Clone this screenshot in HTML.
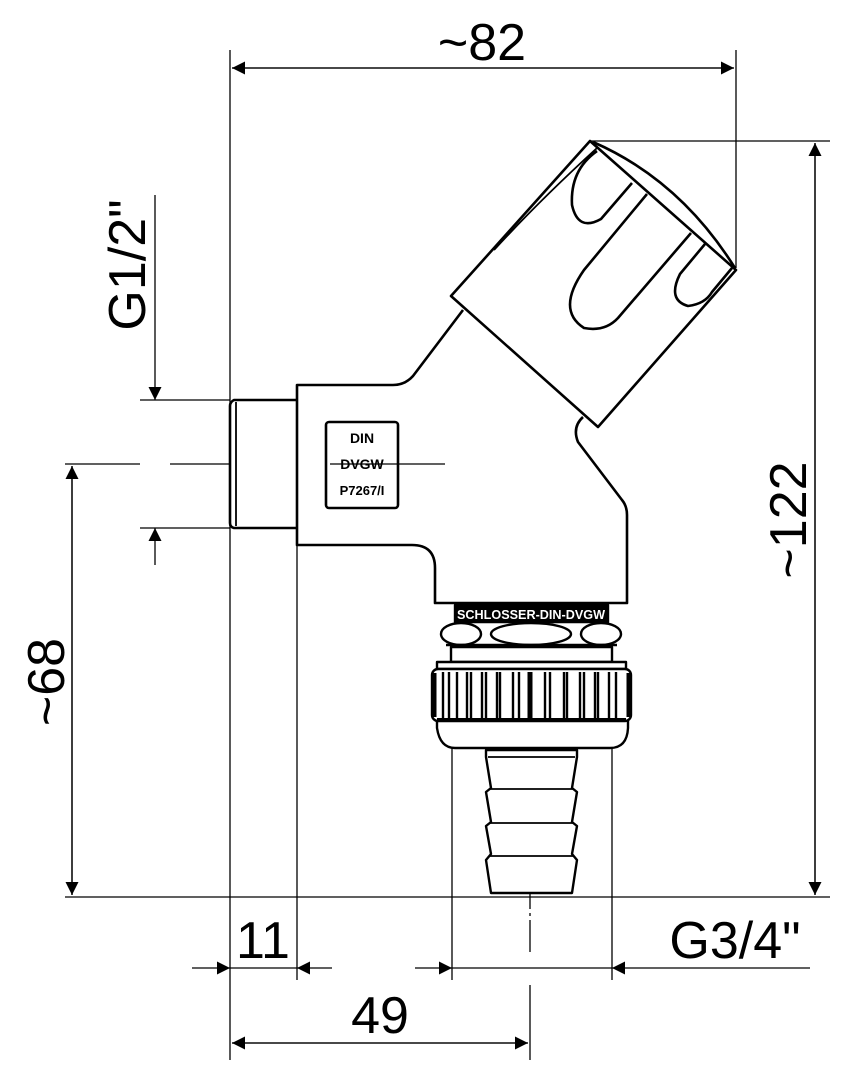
<!DOCTYPE html>
<html><head><style>
html,body{margin:0;padding:0;background:#fff}
svg{display:block}
text{font-family:"Liberation Sans",sans-serif;fill:#000}
</style></head><body>
<svg width="864" height="1080" viewBox="0 0 864 1080" xmlns="http://www.w3.org/2000/svg">
<defs>
<marker id="a" viewBox="0 0 10 10" refX="10" refY="5" markerWidth="22" markerHeight="13" markerUnits="userSpaceOnUse" orient="auto"><path d="M0,0 L10,5 L0,10 z" fill="#000"/></marker>
</defs>
<g stroke="#000" stroke-width="1.3" fill="none">
<line x1="230" y1="50" x2="230" y2="1060"/>
<line x1="297" y1="527" x2="297" y2="980"/>
<line x1="736" y1="50" x2="736" y2="268"/>
<line x1="590" y1="141" x2="830" y2="141"/>
<line x1="65" y1="897" x2="830" y2="897"/>
<line x1="140" y1="400" x2="230" y2="400"/>
<line x1="140" y1="528" x2="230" y2="528"/>
<line x1="452" y1="700" x2="452" y2="980"/>
<line x1="612" y1="700" x2="612" y2="980"/>
<line x1="530" y1="565" x2="530" y2="952" stroke-dasharray="60 4 3 4"/>
<line x1="530" y1="985" x2="530" y2="1060"/>
<line x1="65" y1="464" x2="140" y2="464"/>
<line x1="170" y1="464" x2="445" y2="464" stroke-dasharray="90 4 3 4"/>
<line x1="232" y1="68" x2="734" y2="68" marker-end="url(#a)"/>
<line x1="734" y1="68" x2="232" y2="68" marker-end="url(#a)"/>
<line x1="815" y1="143" x2="815" y2="895" marker-end="url(#a)"/>
<line x1="815" y1="895" x2="815" y2="143" marker-end="url(#a)"/>
<line x1="72" y1="466" x2="72" y2="895" marker-end="url(#a)"/>
<line x1="72" y1="895" x2="72" y2="466" marker-end="url(#a)"/>
<line x1="155" y1="195" x2="155" y2="400" marker-end="url(#a)"/>
<line x1="155" y1="565" x2="155" y2="528" marker-end="url(#a)"/>
<line x1="192" y1="968" x2="230" y2="968" marker-end="url(#a)"/>
<line x1="230" y1="968" x2="297" y2="968"/>
<line x1="332" y1="968" x2="297" y2="968" marker-end="url(#a)"/>
<line x1="415" y1="968" x2="452" y2="968" marker-end="url(#a)"/>
<line x1="452" y1="968" x2="612" y2="968"/>
<line x1="810" y1="968" x2="612" y2="968" marker-end="url(#a)"/>
<line x1="232" y1="1043" x2="528" y2="1043" marker-end="url(#a)"/>
<line x1="528" y1="1043" x2="232" y2="1043" marker-end="url(#a)"/>
</g>
<g stroke="#000" stroke-width="2.6" fill="#fff" stroke-linejoin="round">
<path d="M297,400 L234,400 Q230,402 230,406 L230,523 Q230,527 234,528 L297,528"/>
<line x1="236" y1="402" x2="236" y2="526" stroke-width="1.8"/>
<!-- body fill -->
<path d="M297,385 L393,385 Q405,385 413,376 L463,310 L583,417 Q572,427 578,442 L622,500 Q627,506 627,515 L627,603 L435,603 L435,568 Q435,545 412,545 L297,545 Z" stroke="none"/>
<path d="M463,310 L413,376 Q405,385 393,385 L297,385 L297,545 L412,545 Q435,545 435,568 L435,603 L627,603 L627,515 Q627,506 622,500 L578,442 Q572,427 583,417" fill="none"/>
<!-- handle -->
<path d="M590,141 L736,270 L598,427 L451,296 Z"/>
<path d="M593,142 Q680,180 735,268" fill="none"/>
<path d="M597,148 Q540,200 494,250" fill="none" stroke-width="1.8"/>
<path d="M632,183 L601,219 Q578,232 572,205 Q570,170 597,151" fill="none"/>
<path d="M647,194 L584,270 Q556,310 584,328 Q605,332 618,318 L691,233" fill="none"/>
<path d="M705,244 L680,274 Q667,300 688,306 Q705,304 712,292 L732,268" fill="none"/>
<rect x="326" y="422" width="72" height="86" rx="3"/>
<line x1="330" y1="464" x2="445" y2="464" stroke-width="1.2"/>
</g>
<g font-weight="bold" font-size="14" text-anchor="middle">
<text x="362" y="443">DIN</text>
<text x="362" y="469">DVGW</text>
<text x="362" y="495" font-size="13">P7267/I</text>
</g>
<g stroke="#000" stroke-width="2.4" fill="#fff" stroke-linejoin="round">
<rect x="455" y="605" width="153" height="17" fill="#000"/>
<ellipse cx="461" cy="634" rx="20" ry="11"/>
<ellipse cx="531" cy="634" rx="40" ry="11"/>
<ellipse cx="601" cy="634" rx="20" ry="11"/>
<line x1="446" y1="645" x2="617" y2="645"/>
<rect x="451" y="647" width="161" height="15"/>
<path d="M437,720 L437,728 Q440,748 455,748 L610,748 Q627,748 628,728 L628,720 Z"/>
<rect x="437" y="662" width="189" height="7"/>
<rect x="432" y="669" width="199" height="52" rx="6"/>
<path d="M486,750 L577,750 L577,757 L572,788 L577,792 L572,822 L577,826 L572,854 L577,860 L572,893 L491,893 L486,860 L491,854 L486,826 L491,822 L486,792 L491,788 L486,757 Z"/>
<line x1="488" y1="757" x2="575" y2="757" stroke-width="1.8"/>
<line x1="489" y1="789" x2="574" y2="789" stroke-width="1.8"/>
<line x1="489" y1="823" x2="574" y2="823" stroke-width="1.8"/>
<line x1="489" y1="856" x2="574" y2="856" stroke-width="1.8"/>
</g>
<text x="531" y="619" font-size="13" font-weight="bold" text-anchor="middle" style="fill:#fff" textLength="148" lengthAdjust="spacingAndGlyphs">SCHLOSSER-DIN-DVGW</text>
<g stroke="#000" stroke-width="2.4">
<line x1="434" y1="673" x2="434" y2="717" stroke-width="5"/>
<line x1="629" y1="673" x2="629" y2="717" stroke-width="5"/>
<line x1="443" y1="672" x2="443" y2="719"/><line x1="449" y1="672" x2="449" y2="719"/>
<line x1="457" y1="672" x2="457" y2="719"/><line x1="467" y1="672" x2="467" y2="719"/>
<line x1="471" y1="672" x2="471" y2="719"/><line x1="482" y1="672" x2="482" y2="719"/>
<line x1="486" y1="672" x2="486" y2="719"/><line x1="497" y1="672" x2="497" y2="719"/>
<line x1="500" y1="672" x2="500" y2="719"/><line x1="513" y1="672" x2="513" y2="719"/>
<line x1="519" y1="672" x2="519" y2="719"/><line x1="530" y1="672" x2="530" y2="719" stroke-width="5"/>
<line x1="545" y1="672" x2="545" y2="719"/><line x1="550" y1="672" x2="550" y2="719"/>
<line x1="564" y1="672" x2="564" y2="719"/><line x1="567" y1="672" x2="567" y2="719"/>
<line x1="580" y1="672" x2="580" y2="719"/><line x1="584" y1="672" x2="584" y2="719"/>
<line x1="595" y1="672" x2="595" y2="719"/><line x1="598" y1="672" x2="598" y2="719"/>
<line x1="609" y1="672" x2="609" y2="719"/><line x1="616" y1="672" x2="616" y2="719"/>
<line x1="437" y1="719" x2="626" y2="719" stroke-width="2"/>
</g>
<g font-size="52">
<text x="482" y="60" text-anchor="middle">~82</text>
<text x="263" y="958" text-anchor="middle">11</text>
<text x="380" y="1033" text-anchor="middle">49</text>
<text x="735" y="958" text-anchor="middle">G3/4"</text>
<text transform="translate(145,265) rotate(-90)" text-anchor="middle">G1/2"</text>
<text transform="translate(806,520) rotate(-90)" text-anchor="middle">~122</text>
<text transform="translate(64,682) rotate(-90)" text-anchor="middle">~68</text>
</g>
</svg>
</body></html>
